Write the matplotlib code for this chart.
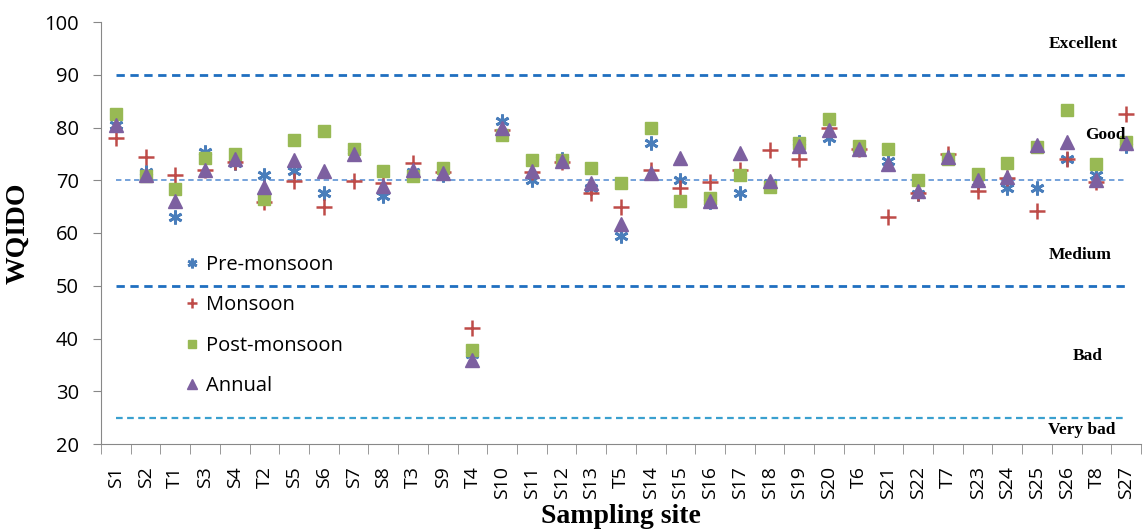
import matplotlib.pyplot as plt
import numpy as np

sites = ['S1', 'S2', 'T1', 'S3', 'S4', 'T2', 'S5', 'S6', 'S7', 'S8', 'T3', 'S9', 'T4', 'S10',
         'S11', 'S12', 'S13', 'T5', 'S14', 'S15', 'S16', 'S17', 'S18', 'S19', 'S20', 'T6',
         'S21', 'S22', 'T7', 'S23', 'S24', 'S25', 'S26', 'T8', 'S27']

pre_monsoon = [80.5, 71.5, 63.0, 75.3, 73.2, 71.0, 71.8, 67.5, 75.5, 67.0, 71.5, 71.0, 37.0, 81.2,
               70.0, 74.0, 68.5, 59.5, 77.0, 70.0, 65.8, 67.5, 69.5, 77.2, 78.0, 76.0,
               73.7, 67.3, 74.3, 69.6, 68.5, 68.5, 74.0, 71.0, 76.5]
monsoon = [78.0, 74.5, 71.0, 72.0, 73.5, 65.8, 69.8, 65.0, 69.8, 69.5, 73.3, 71.5, 42.0, 79.5,
           71.5, 73.5, 67.5, 65.0, 72.0, 68.5, 69.7, 72.0, 75.8, 74.0, 80.0, 76.0,
           63.0, 67.5, 75.0, 68.0, 70.5, 64.2, 74.0, 69.7, 82.5]
post_monsoon = [82.5, 70.8, 68.3, 74.2, 75.0, 66.5, 77.7, 79.4, 76.0, 71.7, 70.8, 72.3, 37.8, 78.5,
                73.8, 73.8, 72.3, 69.4, 80.0, 66.0, 66.7, 71.0, 68.7, 77.0, 81.6, 76.5,
                76.0, 70.0, 74.0, 71.2, 73.3, 76.3, 83.3, 73.1, 77.2]
annual = [80.5, 71.0, 66.0, 72.0, 74.0, 68.7, 73.8, 71.7, 75.0, 69.0, 72.0, 71.3, 36.0, 80.0,
          71.8, 73.7, 69.5, 61.7, 71.3, 74.2, 66.0, 75.2, 69.8, 76.5, 79.5, 76.0,
          73.0, 68.0, 74.5, 70.0, 70.6, 76.7, 77.3, 70.0, 77.0]

class_limits = [90, 70, 50, 25]
class_names = ['Excellent', 'Good', 'Medium', 'Bad', 'Very bad']
class_label_x = [32.55, 33.3, 32.45, 32.7, 32.5]
class_label_y = [95.8, 78.6, 55.8, 36.7, 22.7]

fig = plt.figure(figsize=(11.45, 5.32), dpi=100)
ax = fig.add_axes([101 / 1145, 1 - 444 / 532, 1040 / 1145, 422 / 532])

x = np.arange(len(sites))
ax.plot(x, pre_monsoon, ls='none', marker=(6, 2, 0), ms=10, mew=2, color='#4a7ebb', label='Pre-monsoon')
ax.plot(x, monsoon, ls='none', marker='+', ms=11, mew=1.8, color='#be4b48', label='Monsoon')
ax.plot(x, post_monsoon, ls='none', marker='s', ms=9, color='#98b954', label='Post-monsoon')
ax.plot(x, annual, ls='none', marker='^', ms=10, color='#7d60a0', label='Annual')

# class boundaries
line_styles = {90: ('#1f6fc0', 2.0), 70: ('#6a9bd8', 1.3), 50: ('#1f6fc0', 2.0), 25: ('#3aa0cf', 1.6)}
for lim in class_limits:
    c, lw = line_styles[lim]
    ax.plot([x[0], x[-1]], [lim, lim], ls=(0, (3, 2)), color=c, lw=lw, zorder=1)

for name, xx, yy in zip(class_names, class_label_x, class_label_y):
    ax.text(xx, yy, name, ha='center', va='center', fontsize=12.5, fontweight='bold',
            family='Liberation Serif')

ax.set_xlim(-0.5, len(sites) - 0.5)
ax.set_ylim(20, 100)
ax.set_yticks(np.arange(20, 101, 10))
ax.set_xticks(x)
ax.set_xticklabels(sites, rotation=90, fontsize=14, family='Open Sans')
for lbl in ax.get_yticklabels():
    lbl.set_fontsize(14.5)
    lbl.set_family('Open Sans')
ax.set_xticks(np.arange(-0.5, len(sites)), minor=True)
ax.tick_params(axis='x', which='major', length=0, pad=16)
ax.tick_params(axis='x', which='minor', length=7, color='#888888')
ax.tick_params(axis='y', length=6, color='#888888', pad=10)

for side in ['top', 'right']:
    ax.spines[side].set_visible(False)
ax.spines['left'].set_color('#888888')
ax.spines['bottom'].set_color('#888888')

ax.set_ylabel('WQIDO', fontsize=20, fontweight='bold', family='Liberation Serif', labelpad=10)
ax.set_xlabel('Sampling site', fontsize=20, fontweight='bold', family='Liberation Serif', labelpad=3)

leg = ax.legend(loc='upper left', bbox_to_anchor=(0.063, 0.49), frameon=False,
                prop={'family': 'Open Sans', 'size': 14.5}, markerscale=0.7, labelspacing=1.0,
                handlelength=0.7, handletextpad=0.35)

fig.savefig('out.png', dpi=100)
